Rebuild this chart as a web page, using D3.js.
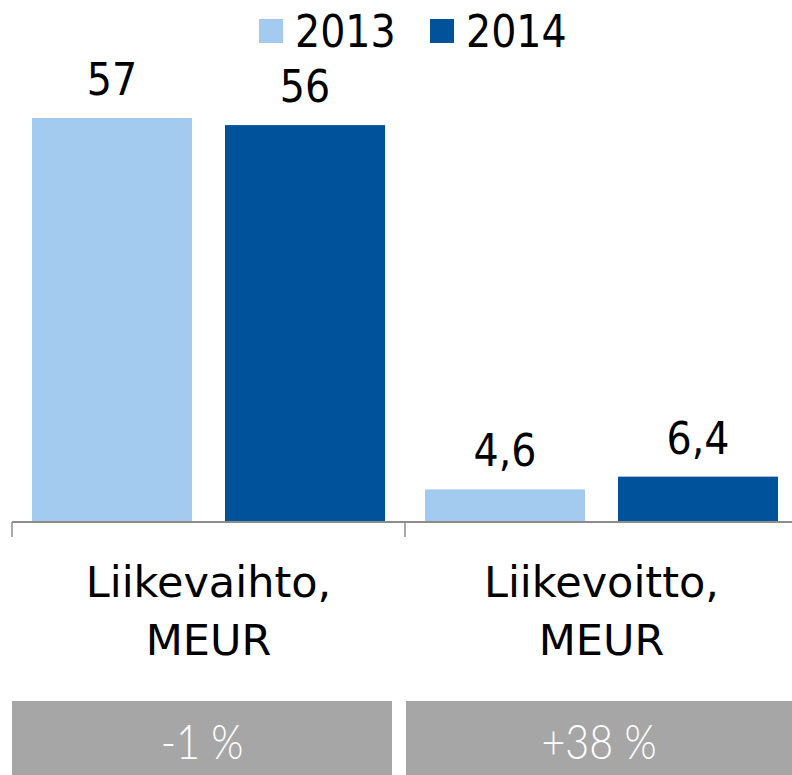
<!DOCTYPE html>
<html>
<head>
<meta charset="utf-8">
<script src="https://cdn.jsdelivr.net/npm/d3@7"></script>
<style>
  html, body { margin: 0; padding: 0; background: #fff; }
  svg { display: block; }
</style>
</head>
<body>
<div id="chart"></div>
<script>
// Data
const categories = [["Liikevaihto,", "MEUR"], ["Liikevoitto,", "MEUR"]];
const years      = ["2013", "2014"];
const values2013 = [57, 4.6];
const values2014 = [56, 6.4];
const changes    = ["-1 %", "+38 %"];

const W = 792, H = 775;
const colors = { "2013": "#a3cbf0", "2014": "#00529b" };
const font = "'DejaVu Sans Condensed', 'DejaVu Sans', sans-serif";

const svg = d3.select("#chart").append("svg")
  .attr("width", W).attr("height", H)
  .style("font-family", font);

// ---- Scales ----
const baseY = 522;
const x = d3.scaleBand()
  .domain(d3.range(categories.length))
  .range([12, 798]);

// bars ~160px wide with ~33px gap inside each ~393px band
const xInner = d3.scaleBand()
  .domain(years)
  .range([20, x.bandwidth() - 20])
  .paddingInner(0.171);

const y = d3.scaleLinear()
  .domain([0, 57])
  .range([baseY, 118]);

const rows = categories.map((c, i) => ({
  i,
  bars: [
    { year: "2013", v: values2013[i] },
    { year: "2014", v: values2014[i] }
  ]
}));

const fmt = v => String(v).replace(".", ",");

// ---- Bars + value labels ----
const groups = svg.selectAll(".grp")
  .data(rows)
  .join("g")
  .attr("transform", d => `translate(${x(d.i)},0)`);

groups.selectAll("rect")
  .data(d => d.bars)
  .join("rect")
  .attr("x", d => xInner(d.year))
  .attr("width", xInner.bandwidth())
  .attr("y", d => y(d.v))
  .attr("height", d => baseY - y(d.v))
  .attr("fill", d => colors[d.year]);

groups.selectAll(".val")
  .data(d => d.bars)
  .join("text")
  .attr("class", "val")
  .attr("x", d => xInner(d.year) + xInner.bandwidth() / 2)
  .attr("y", d => y(d.v) - 23)
  .attr("text-anchor", "middle")
  .attr("font-size", 44)
  .attr("fill", "#000")
  .text(d => fmt(d.v));

// ---- Axis line with ticks between categories ----
svg.append("line")
  .attr("x1", 12).attr("x2", W)
  .attr("y1", baseY).attr("y2", baseY)
  .attr("stroke", "#8c8c8c").attr("stroke-width", 2);

d3.range(categories.length).forEach(i => {
  svg.append("line")
    .attr("x1", x(i)).attr("x2", x(i))
    .attr("y1", baseY).attr("y2", baseY + 15)
    .attr("stroke", "#8c8c8c").attr("stroke-width", 1.5);
});

// ---- Category labels (two lines) ----
const catText = svg.selectAll(".cat")
  .data(categories)
  .join("text")
  .attr("class", "cat")
  .attr("text-anchor", "middle")
  .attr("font-family", "'DejaVu Sans', sans-serif")
  .attr("font-size", 43)
  .attr("fill", "#000");

catText.each(function(d, i) {
  const cx = x(i) + x.bandwidth() / 2;
  d.forEach((line, j) => {
    d3.select(this).append("tspan")
      .attr("x", cx)
      .attr("y", 597 + j * 58)
      .text(line);
  });
});

// ---- Change boxes at the bottom ----
const boxes = [[12, 392], [406, 792]];
svg.selectAll(".box")
  .data(changes)
  .join("rect")
  .attr("x", (d, i) => boxes[i][0])
  .attr("width", (d, i) => boxes[i][1] - boxes[i][0])
  .attr("y", 701)
  .attr("height", H - 701)
  .attr("fill", "#a6a6a6");

// thin, slightly condensed white text
svg.selectAll(".chg")
  .data(changes)
  .join("text")
  .attr("transform", (d, i) => `translate(${(boxes[i][0] + boxes[i][1]) / 2},759) scale(0.86,1)`)
  .attr("text-anchor", "middle")
  .attr("font-family", "Lato, sans-serif")
  .attr("font-weight", 300)
  .attr("font-size", 48)
  .attr("fill", "#fff")
  .text(d => d);

// ---- Legend ----
const legendX = [259, 430];
const leg = svg.selectAll(".leg")
  .data(years)
  .join("g")
  .attr("transform", (d, i) => `translate(${legendX[i]},19)`);

leg.append("rect")
  .attr("width", 24).attr("height", 24)
  .attr("fill", d => colors[d]);

leg.append("text")
  .attr("x", 36).attr("y", 28)
  .attr("font-size", 44)
  .attr("fill", "#000")
  .text(d => d);
</script>
</body>
</html>
